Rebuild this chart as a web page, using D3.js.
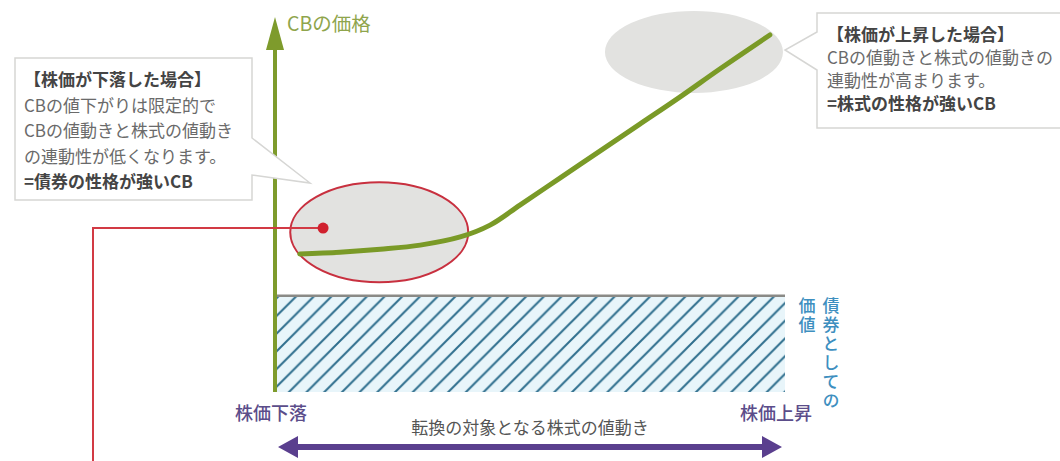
<!DOCTYPE html>
<html>
<head>
<meta charset="utf-8">
<script src="https://cdn.jsdelivr.net/npm/d3@7"></script>
<style>
  body { margin: 0; background: #fff; }
  svg text { font-family: "Noto Sans CJK JP", "Noto Sans", sans-serif; }
</style>
</head>
<body>
<div id="chart"></div>
<script>
// stock move (x, 0-100) vs CB price (y, 0-100)
var stockMove = [4.9, 12.8, 20.8, 28.7, 36.6, 42.5, 48.4, 56.3, 64.2, 72.1, 80.0, 87.9, 97.8];
var cbPrice   = [37.3, 37.8, 38.6, 39.7, 41.9, 45.1, 50.5, 57.8, 65.1, 72.4, 79.7, 87.3, 96.5];
var bondFloor = 26;

var zoneLabels = ['down', 'up'];
var zoneX = [20.6, 82.8];
var zoneY = [43.2, 91.9];

var axisTitle = 'CBの価格';
var bondLabel = ['債券としての', '価値'];
var xLeftLabel = '株価下落';
var xRightLabel = '株価上昇';
var xTitle = '転換の対象となる株式の値動き';

var downNote = ['【株価が下落した場合】', 'CBの値下がりは限定的で', 'CBの値動きと株式の値動き', 'の連動性が低くなります。', '=債券の性格が強いCB'];
var upNote = ['【株価が上昇した場合】', 'CBの値動きと株式の値動きの', '連動性が高まります。', '=株式の性格が強いCB'];

var width = 1060, height = 461;

var svg = d3.select('#chart').append('svg')
    .attr('width', width)
    .attr('height', height);

var x = d3.scaleLinear().domain([0, 100]).range([275, 781]);
var y = d3.scaleLinear().domain([0, 100]).range([392, 22]);

// hatch pattern for bond value
var defs = svg.append('defs');
var pat = defs.append('pattern')
    .attr('id', 'hatch')
    .attr('patternUnits', 'userSpaceOnUse')
    .attr('width', 17.7).attr('height', 17.7)
    .attr('x', x(0) + 4).attr('y', y(bondFloor));
pat.append('rect').attr('width', 17.7).attr('height', 17.7).attr('fill', '#e8f5fa');
pat.append('path')
    .attr('d', 'M-2,19.7 L19.7,-2 M-4,4 L4,-4 M13.7,21.7 L21.7,13.7')
    .attr('stroke', '#2f6f8e').attr('stroke-width', 2);

// zone ellipses
var zones = zoneLabels.map(function (d, i) { return { id: d, x: zoneX[i], y: zoneY[i] }; });
svg.selectAll('.zone')
    .data(zones)
    .enter().append('ellipse')
    .attr('class', 'zone')
    .attr('cx', d => x(d.x))
    .attr('cy', d => y(d.y))
    .attr('rx', 89)
    .attr('ry', d => d.id === 'down' ? 50 : 41)
    .attr('fill', '#e2e2e0')
    .attr('stroke', d => d.id === 'down' ? '#c8303f' : 'none')
    .attr('stroke-width', 2);

// bond value block
svg.append('rect')
    .attr('x', x(0)).attr('y', y(bondFloor))
    .attr('width', x(100) - x(0) + 4)
    .attr('height', y(0) - y(bondFloor))
    .attr('fill', 'url(#hatch)');
svg.append('line')
    .attr('x1', x(0)).attr('x2', x(100) + 4)
    .attr('y1', y(bondFloor)).attr('y2', y(bondFloor))
    .attr('stroke', '#8a8a86').attr('stroke-width', 2.5);

// y axis with arrow
svg.append('line')
    .attr('x1', x(0)).attr('x2', x(0))
    .attr('y1', y(0)).attr('y2', 45)
    .attr('stroke', '#7e9b2c').attr('stroke-width', 4);
svg.append('path')
    .attr('d', 'M' + (x(0) - 9) + ',50 L' + x(0) + ',17 L' + (x(0) + 9) + ',50 Z')
    .attr('fill', '#7e9b2c');
svg.append('text')
    .attr('x', 287).attr('y', 31)
    .attr('font-size', 19.5)
    .attr('fill', '#8fa54c')
    .text(axisTitle);

// red leader to the down zone
var dotX = x(9.5), dotY = y(44.3);
svg.append('path')
    .attr('d', 'M93,' + height + ' V' + dotY + ' H' + dotX)
    .attr('fill', 'none')
    .attr('stroke', '#d23a44').attr('stroke-width', 2);
svg.append('circle')
    .attr('cx', dotX).attr('cy', dotY).attr('r', 5.5)
    .attr('fill', '#d0202e');

// CB price curve
var pts = stockMove.map(function (d, i) { return [d, cbPrice[i]]; });
var line = d3.line()
    .x(d => x(d[0]))
    .y(d => y(d[1]))
    .curve(d3.curveCatmullRom.alpha(0.5));
svg.append('path')
    .datum(pts)
    .attr('d', line)
    .attr('fill', 'none')
    .attr('stroke', '#7a9a27')
    .attr('stroke-width', 5)
    .attr('stroke-linecap', 'round');

// vertical bond label (right column first)
svg.selectAll('.bondLabel')
    .data(bondLabel)
    .enter().append('text')
    .attr('class', 'bondLabel')
    .attr('x', (d, i) => i === 0 ? 831 : 807)
    .attr('y', 297)
    .style('writing-mode', 'vertical-rl')
    .style('text-orientation', 'upright')
    .style('letter-spacing', '2px')
    .attr('font-size', 17)
    .attr('font-weight', 500)
    .attr('fill', '#3e8fbf')
    .text(d => d);

// bottom labels
svg.append('text')
    .attr('x', 235).attr('y', 420)
    .attr('font-size', 18)
    .attr('font-weight', 500)
    .attr('fill', '#5b4d8a')
    .text(xLeftLabel);
svg.append('text')
    .attr('x', 740).attr('y', 420)
    .attr('font-size', 18)
    .attr('font-weight', 500)
    .attr('fill', '#5b4d8a')
    .text(xRightLabel);
svg.append('text')
    .attr('x', 530).attr('y', 434)
    .attr('text-anchor', 'middle')
    .attr('font-size', 17)
    .attr('fill', '#555')
    .text(xTitle);

// double-headed arrow
var ay = 447, ax0 = x(0) + 3, ax1 = x(100) + 1;
svg.append('line')
    .attr('x1', ax0 + 14).attr('x2', ax1 - 14)
    .attr('y1', ay).attr('y2', ay)
    .attr('stroke', '#5a3f8e').attr('stroke-width', 6);
svg.append('path')
    .attr('d', 'M' + ax0 + ',' + ay + ' L' + (ax0 + 20) + ',' + (ay - 11) + ' L' + (ax0 + 20) + ',' + (ay + 11) + ' Z' +
               'M' + ax1 + ',' + ay + ' L' + (ax1 - 20) + ',' + (ay - 11) + ' L' + (ax1 - 20) + ',' + (ay + 11) + ' Z')
    .attr('fill', '#5a3f8e');

// callouts
function callout(pathD, lines, tx, ty, lh) {
    svg.append('path')
        .attr('d', pathD)
        .attr('fill', '#fff')
        .attr('stroke', '#d6d6d4')
        .attr('stroke-width', 1.5);
    lines.forEach(function (t, i) {
        var strong = i === 0 || i === lines.length - 1;
        svg.append('text')
            .attr('x', tx).attr('y', ty + i * lh)
            .attr('font-size', 17)
            .attr('font-weight', strong ? 700 : 400)
            .attr('fill', strong ? '#444' : '#6a6a6a')
            .text(t);
    });
}
callout('M15,58 H252 V138 L310,183 L252,175 V200 H15 Z', downNote, 24, 86, 25.5);
callout('M817,13 H1066 V128 H817 V70 L785,50 L817,32 Z', upNote, 827, 41, 23);
</script>
</body>
</html>
